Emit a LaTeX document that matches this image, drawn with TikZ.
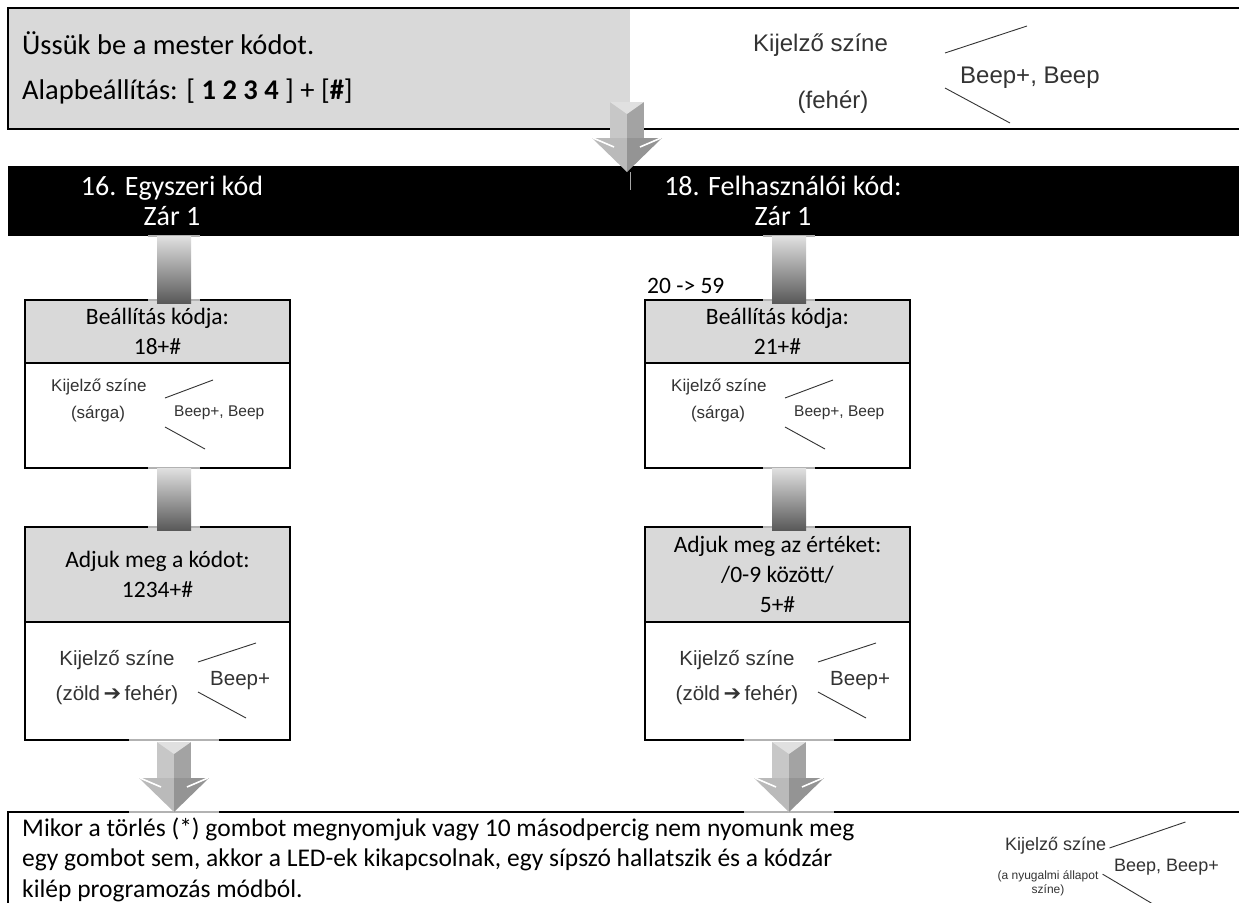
\documentclass[tikz,border=0pt]{standalone}
\usepackage{fontspec}
\setmainfont{Carlito}
\newfontfamily\arialf{Liberation Sans}
\newfontfamily\dejavuf{DejaVu Sans}
\usetikzlibrary{positioning, calc}

\definecolor{hdrgray}{HTML}{D9D9D9}
\definecolor{signgray}{HTML}{333333}

\tikzset{
  frame/.style={draw, line width=2.2bp, inner sep=0pt, outer sep=0pt},
  hdr/.style={frame, fill=hdrgray, minimum width=265bp, align=center,
    font=\fontsize{23.5bp}{30bp}\selectfont},
  body/.style={frame, fill=white, minimum width=265bp},
  bigtext/.style={inner sep=0pt, font=\fontsize{28.5bp}{34bp}\selectfont},
  exittext/.style={inner sep=0pt, font=\fontsize{25.5bp}{30bp}\selectfont},
  bartext/.style={text=white, align=center, font=\fontsize{28bp}{30bp}\selectfont},
  sign/.style={text=signgray, inner sep=0pt, font=\arialf\fontsize{#1}{#1}\selectfont},
  signline/.style={draw=signgray, line width=0.9bp},
  connbar/.style={top color=hdrgray!80, bottom color=black!65},
  capline/.style={draw=black!30, line width=2.2bp},
  pics/bigarrow/.style={code={
    \fill[black!22] (-17,-70) -- (0,-70) -- (0,-34) -- (-17,-34) -- cycle;
    \fill[black!36] (0,-70) -- (17,-70) -- (17,-34) -- (0,-34) -- cycle;
    \fill[black!12] (-17,-70) -- (17,-70) -- (0,-58) -- cycle;
    \fill[black!27] (-35,-34) -- (0,-34) -- (0,0) -- cycle;
    \fill[black!42] (35,-34) -- (0,-34) -- (0,0) -- cycle;
    \draw[white, line width=1.6bp] (-34,-34) -- (-13,-25);
    \draw[white, line width=1.6bp] (34,-34) -- (13,-25);
  }}
}

\begin{document}
\begin{tikzpicture}[x=1bp, y=-1bp]
  \useasboundingbox (0,0) rectangle (1239,903);
  \coordinate (colL) at (174,0);
  \coordinate (colR) at (789,0);
  \coordinate (topx) at (627,0);

  % master code
  \node[fill=hdrgray, minimum width=622bp, minimum height=121bp, inner sep=0pt, outer sep=0pt, anchor=north west] (master) at (8,8) {};
  \node[minimum width=620bp, minimum height=121bp, inner sep=0pt, outer sep=0pt, right=0pt of master] (masterbeep) {};
  \draw[line width=2.6bp] (master.north west) rectangle (masterbeep.south east);
  \node[bigtext, anchor=base west] (mastertxt) at (22,54) {Üssük be a mester kódot.};
  \node[bigtext, anchor=base west] (defaulttxt) at (22,99) {Alapbeállítás: [ \textbf{1 2 3 4} ] + [\textbf{\#}]};
  \node[sign=24bp, anchor=west] (kij0) at (753,45) {Kijelző színe};
  \node[sign=24bp] (col0) at (833,102) {(fehér)};
  \node[sign=24bp, anchor=west] (beep0) at (960,78) {Beep+, Beep};
  \draw[signline] ($(beep0.west)+(-15,-25)$) -- ++(82,-27);
  \draw[signline] ($(beep0.west)+(-15,10)$) -- ++(65,35);

  % menu bar
  \node[fill=black, minimum width=1240bp, minimum height=70bp, inner sep=0pt, outer sep=0pt, anchor=north west] (menu) at (8,166) {};
  \node[bartext] (menu16) at (172,201) {16. Egyszeri kód\\Zár 1};
  \node[bartext] (menu18) at (783,201) {18. Felhasználói kód:\\Zár 1};

  % left column
  \node[hdr, minimum height=63bp, anchor=north west] (set16) at (25,300) {Beállítás kódja:\\18+\#};
  \node[body, minimum height=105bp, below=0pt of set16] (sig16) {};
  \node[hdr, minimum height=95bp, anchor=north west] (code16) at (25,527) {Adjuk meg a kódot:\\1234+\#};
  \node[body, minimum height=118bp, below=0pt of code16] (ok16) {};

  % right column
  \node[font=\fontsize{23.5bp}{30bp}\selectfont, inner sep=0pt, anchor=base west] (range) at (647,293) {20 -> 59};
  \node[hdr, minimum height=63bp, anchor=north west] (set18) at (645,300) {Beállítás kódja:\\21+\#};
  \node[body, minimum height=105bp, below=0pt of set18] (sig18) {};
  \node[hdr, minimum height=95bp, anchor=north west] (code18) at (645,527) {Adjuk meg az értéket:\\/0-9 között/\\5+\#};
  \node[body, minimum height=118bp, below=0pt of code18] (ok18) {};

  % signals
  \foreach \b in {sig16, sig18} {
    \node[sign=17bp, anchor=west] (\b-kij) at ($(\b.north west)+(26,24)$) {Kijelző színe};
    \node[sign=17bp] (\b-col) at ($(\b.north west)+(73,51)$) {(sárga)};
    \node[sign=15.5bp, anchor=west] (\b-beep) at ($(\b.north west)+(149,50)$) {Beep+, Beep};
    \draw[signline] ($(\b-beep.west)+(-9,-15)$) -- ++(48,-18);
    \draw[signline] ($(\b-beep.west)+(-9,14)$) -- ++(40,22);
  }
  \foreach \b in {ok16, ok18} {
    \node[sign=20.5bp] (\b-kij) at ($(\b.north west)+(92,38)$) {Kijelző színe};
    \node[sign=20.5bp] (\b-col) at ($(\b.north west)+(92,73)$) {(zöld{\dejavuf\fontsize{21bp}{21bp}\selectfont\,➔\,}fehér)};
    \node[sign=20.5bp, anchor=west] (\b-beep) at ($(\b.north west)+(185,59)$) {Beep+};
    \draw[signline] ($(\b-beep.west)+(-12,-19)$) -- ++(58,-19);
    \draw[signline] ($(\b-beep.west)+(-12,11)$) -- ++(48,26);
  }

  % connectors
  \foreach \c/\a/\b in {colL/menu/set16, colR/menu/set18, colL/sig16/code16, colR/sig18/code18} {
    \draw[capline] ($(\a.south -| \c)+(-26,0)$) -- ++(52,0);
    \draw[capline] ($(\b.north -| \c)+(-26,0)$) -- ++(52,0);
    \shade[connbar] ($(\a.south -| \c)+(-17,0)$) rectangle ($(\b.north -| \c)+(17,3)$);
  }

  % exit
  \node[frame, line width=2.6bp, fill=white, minimum width=1240bp, minimum height=130bp, anchor=north west] (exit) at (8,812) {};
  \foreach \c/\a in {colL/ok16, colR/ok18} {
    \draw[capline] ($(\a.south -| \c)+(-45,0)$) -- ++(90,0);
    \draw[capline] ($(exit.north -| \c)+(-45,0)$) -- ++(90,0);
    \pic at (exit.north -| \c) {bigarrow};
  }
  \pic at ($(menu.north -| topx)+(0,6)$) {bigarrow};
  \draw[black!35, line width=1bp] ($(menu.north -| topx)+(3,6)$) -- ++(0,18);

  \node[exittext, anchor=base west] (exit1) at (22,836) {Mikor a törlés (*) gombot megnyomjuk vagy 10 másodpercig nem nyomunk meg};
  \node[exittext, anchor=base west] (exit2) at (22,866) {egy gombot sem, akkor a LED-ek kikapcsolnak, egy sípszó hallatszik és a kódzár};
  \node[exittext, anchor=base west] (exit3) at (22,897) {kilép programozás módból.};
  \node[sign=18bp, anchor=west] (exitkij) at (1005,846) {Kijelző színe};
  \node[sign=12bp, align=center, font=\arialf\fontsize{12bp}{14bp}\selectfont] (exitcol) at (1048,883) {(a nyugalmi állapot\\színe)};
  \node[sign=18bp, anchor=west] (exitbeep) at (1114,867) {Beep, Beep+};
  \draw[signline] ($(exitkij.east)+(3,2)$) -- ++(76,-26);
  \draw[signline] ($(exitcol.north east)+(4,4)$) -- ++(64,38);
\end{tikzpicture}
\end{document}
